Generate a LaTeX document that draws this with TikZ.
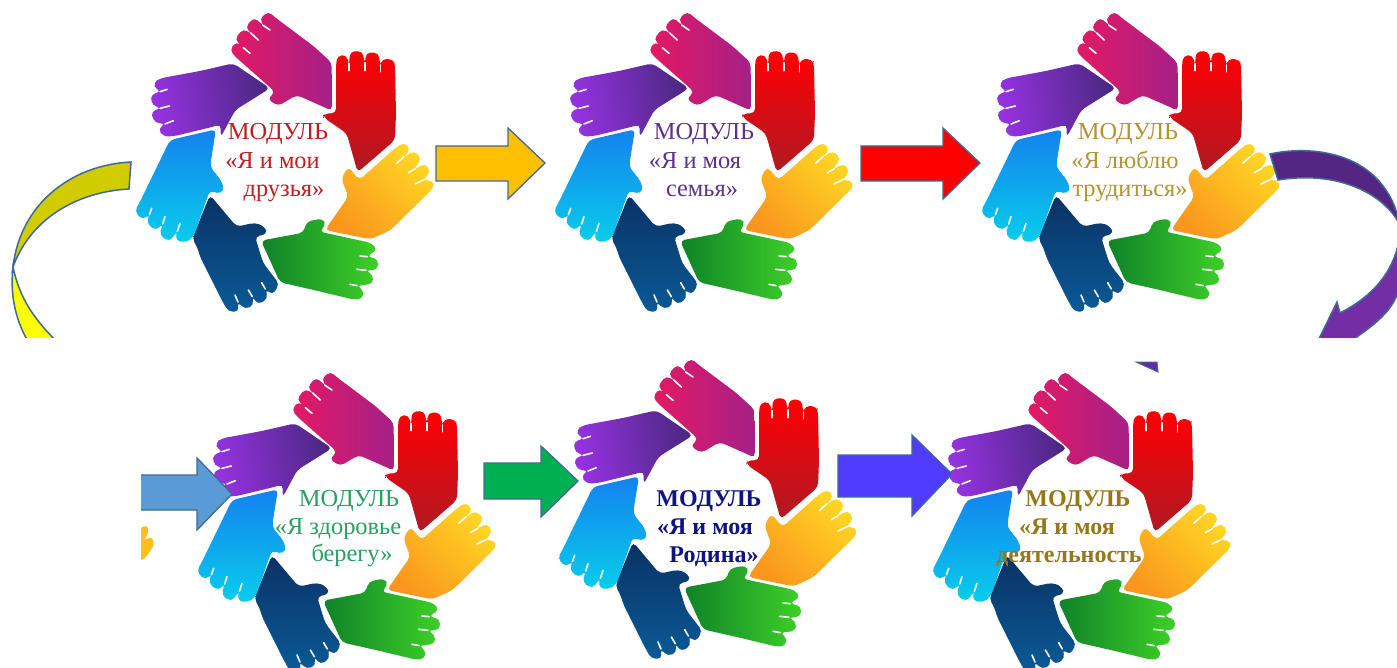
\documentclass[tikz,border=0pt]{standalone}
\usepackage{fontspec}
\setmainfont{Liberation Serif}
\definecolor{edgeblue}{RGB}{65,105,150}
\definecolor{txtred}{RGB}{192,30,35}
\definecolor{txtpurple}{RGB}{92,50,140}
\definecolor{txtgold}{RGB}{178,148,50}
\definecolor{txtgreen}{RGB}{40,160,100}
\definecolor{txtnavy}{RGB}{15,20,130}
\definecolor{txtbgold}{RGB}{150,120,25}
\tikzset{
  x=1pt,y=-1pt,
  blockarrow/.style={draw=edgeblue,line width=1.3pt,line join=miter},
  hand/.style={rounded corners=4.5pt,draw=none},
  slit/.style={draw=white,line width=1.6pt,line cap=round},
  modtext/.style={inner sep=0pt,anchor=base,font=\fontsize{24.4}{26}\selectfont},
  boldtext/.style={inner sep=0pt,anchor=base,font=\fontsize{24}{26}\selectfont\bfseries},
}
\newcommand{\handwheel}[2]{%
\begin{scope}[shift={(130+#1,#2)},x=0.33333pt,y=-0.33333pt]
% magenta
\shade[hand,left color={rgb,255:red,228;green,25;blue,100},right color={rgb,255:red,165;green,32;blue,135}]
 (605,188)--(550,138)--(435,52)--(415,34)--(388,58)--(404,80)--(372,52)--(346,82)--(368,104)--(340,86)--(314,118)--(347,149)--(320,124)--(299,150)--(318,172)--(420,262)--(436,277)--(412,297)--(445,318)--(500,285)--(606,332)--cycle;
\draw[slit] (398,75)--(420,90) (362,99)--(385,120) (340,143)--(360,160);
% purple
\shade[hand,left color={rgb,255:red,150;green,50;blue,225},right color={rgb,255:red,75;green,40;blue,130},shading angle=100]
 (310,190)--(210,213)--(90,235)--(70,248)--(78,270)--(95,274)--(64,283)--(62,306)--(78,322)--(95,324)--(64,334)--(68,360)--(88,372)--(108,371)--(84,386)--(100,410)--(135,408)--(258,378)--(272,372)--(272,412)--(316,330)--(420,265)--cycle;
\draw[slit] (90,275)--(112,268) (90,325)--(118,318) (105,372)--(130,362);
% red
\shade[hand,top color={rgb,255:red,255;green,0;blue,5},bottom color={rgb,255:red,175;green,25;blue,35}]
 (618,195)--(622,167)--(650,165)--(657,197)--(660,155)--(697,153)--(705,192)--(708,158)--(745,158)--(752,200)--(755,177)--(790,178)--(795,195)--(798,340)--(795,420)--(683,517)--(650,400)--(580,352)--(582,340)--(618,340)--cycle;
\draw[slit] (657,190)--(657,212) (705,188)--(705,212) (752,195)--(752,215);
% orange
\shade[hand,top color={rgb,255:red,255;green,215;blue,35},bottom color={rgb,255:red,250;green,150;blue,30},shading angle=-45]
 (585,690)--(655,590)--(634,535)--(655,500)--(688,540)--(795,445)--(822,427)--(842,448)--(818,474)--(852,452)--(875,476)--(850,510)--(885,490)--(902,515)--(878,542)--(908,540)--(912,562)--(782,690)--(722,718)--cycle;
\draw[slit] (822,470)--(800,490) (856,506)--(835,518) (884,538)--(855,552);
% green
\shade[hand,left color={rgb,255:red,15;green,130;blue,40},right color={rgb,255:red,62;green,208;blue,40}]
 (393,722)--(520,698)--(530,665)--(578,655)--(588,675)--(568,695)--(725,729)--(742,750)--(710,769)--(745,778)--(742,810)--(706,811)--(730,825)--(728,852)--(680,857)--(702,872)--(697,897)--(672,899)--(560,872)--(450,847)--cycle;
\draw[slit] (712,770)--(690,768) (708,811)--(680,808) (682,857)--(660,853);
% dark blue
\shade[hand,top color={rgb,255:red,10;green,50;blue,100},bottom color={rgb,255:red,10;green,90;blue,150}]
 (240,585)--(320,680)--(375,668)--(405,680)--(412,702)--(375,710)--(400,790)--(448,852)--(428,885)--(406,867)--(414,895)--(385,914)--(365,888)--(372,915)--(345,928)--(322,905)--(327,935)--(295,935)--(275,900)--(210,770)--(205,750)--(187,715)--cycle;
\draw[slit] (406,867)--(395,848) (367,890)--(355,870) (324,906)--(315,885);
% cyan
\shade[hand,top color={rgb,255:red,20;green,130;blue,238},bottom color={rgb,255:red,8;green,205;blue,235}]
 (258,388)--(240,500)--(275,543)--(283,572)--(262,582)--(240,570)--(190,712)--(165,728)--(135,720)--(143,692)--(118,725)--(88,705)--(99,670)--(78,692)--(50,670)--(59,642)--(38,660)--(14,634)--(30,605)--(120,420)--cycle;
\draw[slit] (150,670)--(142,694) (105,650)--(98,672) (65,625)--(58,644);
\end{scope}}
\begin{document}
\begin{tikzpicture}
\useasboundingbox (0,0) rectangle (1397,668);
\fill[white] (0,0) rectangle (1397,668);
% wheels
\handwheel{0}{0}
\handwheel{419}{0}
\handwheel{846}{0}
\handwheel{62}{360}
\handwheel{423}{347}
\handwheel{797}{360}
% block arrows
\draw[blockarrow,fill={rgb,255:red,255;green,192;blue,0}] (436,146)--(508,146)--(508,128)--(545,163)--(508,199)--(508,181)--(436,181)--cycle;
\draw[blockarrow,fill=red] (861,146)--(943,146)--(943,128)--(980,163)--(943,199)--(943,181)--(861,181)--cycle;
\fill[fill={rgb,255:red,91;green,155;blue,213}] (141,475)--(197,475)--(197,458)--(232,494)--(197,530)--(197,510)--(141,510)--cycle;
\draw[blockarrow] (141,475)--(197,475)--(197,458)--(232,494)--(197,530)--(197,510)--(141,510);
\draw[blockarrow,fill={rgb,255:red,0;green,176;blue,80}] (484,463)--(541,463)--(541,446)--(578,481)--(541,517)--(541,499)--(484,499)--cycle;
\draw[blockarrow,fill={rgb,255:red,80;green,60;blue,255}] (838,455)--(912,455)--(912,435)--(952,474)--(912,516)--(912,497)--(838,497)--cycle;
% curved yellow arrow
\begin{scope}
\clip (0,0) rectangle (1397,337);
\draw[blockarrow,line width=1.5pt,fill={rgb,255:red,208;green,204;blue,0}] (131,162) .. controls (70,165) and (20,205) .. (13,267) .. controls (30,220) and (75,192) .. (129,189)--cycle;
\draw[blockarrow,line width=1.5pt,fill={rgb,255:red,255;green,255;blue,0}] (13,267) .. controls (10,295) and (15,320) .. (30,345)--(60,345) .. controls (35,320) and (20,300) .. (13,267)--cycle;
% curved purple arrow
\draw[blockarrow,line width=1.5pt,fill={rgb,255:red,82;green,38;blue,130}] (1270,154) .. controls (1310,145) and (1385,150) .. (1400,225) .. controls (1385,195) and (1340,170) .. (1278,180)--cycle;
\draw[blockarrow,line width=1.5pt,fill={rgb,255:red,115;green,45;blue,165}] (1400,235) .. controls (1395,270) and (1375,295) .. (1340,313)--(1337,302)--(1316,345)--(1345,345) .. controls (1375,325) and (1395,310) .. (1400,285)--cycle;
\end{scope}
\draw[draw=edgeblue,line width=1pt,fill={rgb,255:red,100;green,40;blue,170}] (1136,362)--(1157,362)--(1158,372)--cycle;
% stray finger fragment
\fill[rounded corners=2.5pt,fill={rgb,255:red,252;green,190;blue,30}] (141,530)--(141,527)--(148,526)--(148,534)--(144,540)--(152,537)--(154,545)--(147,556)--(141,561)--cycle;
% labels
\node[modtext,text=txtred] (a1) at (278,140) {МОДУЛЬ};
\node[modtext,text=txtred] (a2) at (272.5,169) {«Я и мои};
\node[modtext,text=txtred] (a3) at (284,197) {друзья»};
\node[modtext,text=txtpurple] (b1) at (704,140) {МОДУЛЬ};
\node[modtext,text=txtpurple] (b2) at (695,169) {«Я и моя};
\node[modtext,text=txtpurple] (b3) at (702,197) {семья»};
\node[modtext,text=txtgold] (c1) at (1128,140) {МОДУЛЬ};
\node[modtext,text=txtgold] (c2) at (1125,169) {«Я люблю};
\node[modtext,text=txtgold] (c3) at (1130,197) {трудиться»};
\node[modtext,text=txtgreen] (d1) at (349,506) {МОДУЛЬ};
\node[modtext,text=txtgreen] (d2) at (338,534) {«Я здоровье};
\node[modtext,text=txtgreen] (d3) at (352,561) {берегу»};
\node[boldtext,text=txtnavy] (e1) at (709,506) {МОДУЛЬ};
\node[boldtext,text=txtnavy] (e2) at (705,534) {«Я и моя};
\node[boldtext,text=txtnavy] (e3) at (714,562) {Родина»};
\node[boldtext,text=txtbgold] (f1) at (1078,506) {МОДУЛЬ};
\node[boldtext,text=txtbgold] (f2) at (1067,534) {«Я и моя};
\node[boldtext,text=txtbgold] (f3) at (1069,562) {деятельность};
\end{tikzpicture}
\end{document}
